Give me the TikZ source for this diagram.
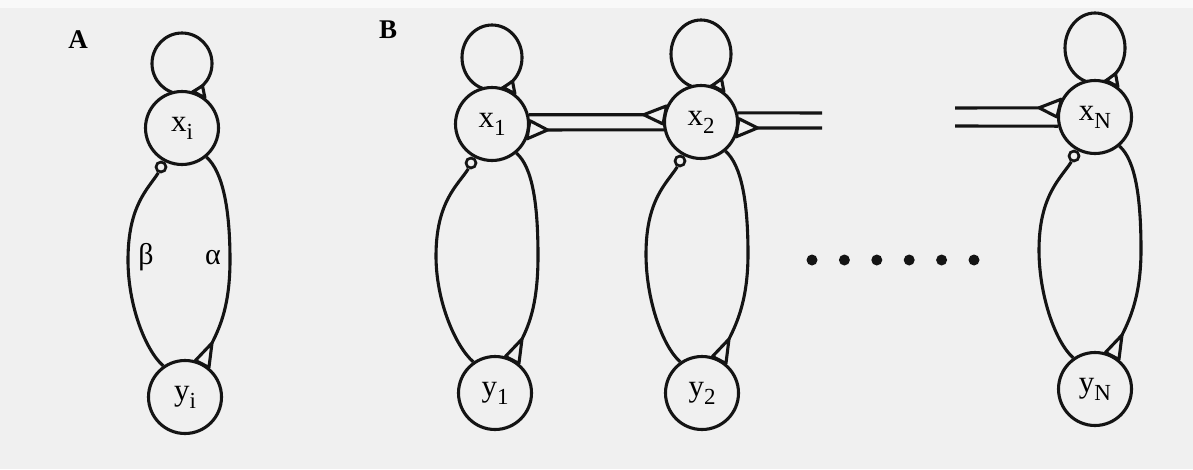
\documentclass[tikz,border=0pt]{standalone}
\usepackage{fontspec}
\setmainfont{Liberation Serif}
\usetikzlibrary{calc}
\definecolor{bgc}{RGB}{240,240,240}
\definecolor{ink}{RGB}{20,20,20}
\newcommand{\nlab}[2]{#1\raisebox{-8pt}{\fontsize{23}{23}\selectfont #2}}
\pgfdeclarelayer{back}
\pgfdeclarelayer{wires}
\pgfsetlayers{back,wires,main}
\begin{document}
\begin{tikzpicture}[x=1pt,y=-1pt,
  ln/.style={draw=ink,line width=3.1pt},
  cell/.style={circle,ln,fill=bgc,minimum size=73pt,inner sep=0pt,font=\fontsize{31}{31}\selectfont},
  tri/.style={ln,fill=bgc,line join=round},
  inh/.style={circle,draw=ink,line width=2.7pt,fill=bgc,minimum size=10pt,inner sep=0pt},
  dot/.style={circle,fill=ink,minimum size=11pt,inner sep=0pt},
  panel/.style={font=\fontsize{27}{27}\selectfont\bfseries},
  greek/.style={font=\fontsize{30}{30}\selectfont}]
\begin{pgfonlayer}{back}
\fill[bgc] (0,0) rectangle (1193,469);
\fill[white!60!bgc] (0,0) rectangle (1193,8);
\end{pgfonlayer}
\useasboundingbox (0,0) rectangle (1193,469);

\node[panel] (pA) at (78,40) {A};
\node[panel] (pB) at (388,30) {B};

\foreach \n/\cx/\cy/\lc/\lr/\ex/\ey/\yx/\yy in {
  i/182/128/63.5/30.5/179/260/185/397,
  1/492/124/57.5/32.5/487/256/495/393,
  2/701/122/54/34/697/254/702/393,
  N/1095/117/48/35/1090/250/1095/389}{
  \node[cell] (x\n) at (\cx,\cy) {\nlab{x}{\n}};
  \node[cell] (y\n) at (\yx,\yy) {\nlab{y}{\n}};
  \node[inh] (h\n) at ($(x\n.center)+(-21,39)$) {};
  \coordinate (l\n) at (\cx,\lc);
  \coordinate (r\n) at (\ex+51,\ey);
  \coordinate (w\n) at (\ex-51,\ey);
  \coordinate (a\n) at ($(y\n.center)+(27,-54)$);
  \coordinate (t\n) at ($(l\n)+(20.5,{0.731*\lr})$);
  \begin{pgfonlayer}{wires}
   \draw[ln] (l\n) ellipse [x radius=30, y radius=\lr];
   \draw[ln] (x\n.-50) .. controls +(16,14) and +(0,-52) .. (r\n) .. controls +(0,45) and +(8,-16) .. (a\n);
   \draw[ln] (y\n.125) .. controls +(-18,-16) and +(0,45) .. (w\n) .. controls +(0,-55) and +(-10,16) .. (h\n.-115);
  \end{pgfonlayer}
  \draw[tri] (t\n) -- (x\n.73) -- (x\n.53) -- cycle;
  \draw[tri] (a\n) -- (y\n.74) -- (y\n.51) -- cycle;
}

\coordinate (f1) at (822,113);
\coordinate (f2) at (822,128);
\coordinate (f3) at (955,108);
\coordinate (f4) at (955,126);
\coordinate (q1) at ($(x2.169)+(-20,0)$);
\coordinate (q2) at ($(x1.-9)+(18,0)$);
\coordinate (q3) at ($(x2.-9)+(19,0)$);
\coordinate (q4) at ($(xN.166)+(-19,0)$);
\begin{pgfonlayer}{wires}
\draw[ln] (x1.14) -- (q1);
\draw[ln] (x2.192) -- (q2);
\draw[ln] (x2.14) -- (f1);
\draw[ln] (f2) -- (q3);
\draw[ln] (f3) -- (q4);
\draw[ln] (xN.194) -- (f4);
\end{pgfonlayer}
\draw[tri] (q1) -- (x2.155) -- (x2.183) -- cycle;
\draw[tri] (q2) -- (x1.5) -- (x1.-23) -- cycle;
\draw[tri] (q3) -- (x2.5) -- (x2.-23) -- cycle;
\draw[tri] (q4) -- (xN.152) -- (xN.180) -- cycle;

\node[greek] (beta) at (146,257) {β};
\node[greek] (alpha) at (213,258) {α};

\foreach \k in {0,...,5} \node[dot] (d\k) at (812+32.4*\k,260) {};
\end{tikzpicture}
\end{document}
